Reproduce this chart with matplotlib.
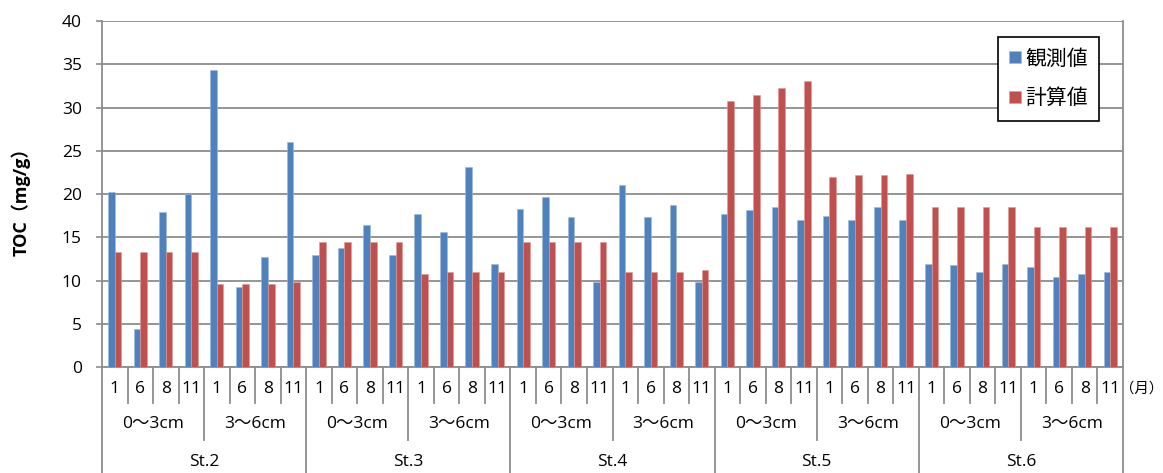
import matplotlib
matplotlib.use("Agg")
import matplotlib.pyplot as plt
import numpy as np

# Sampling stations, depth layers and sampling months (category axis levels)
stations = ["St.2", "St.3", "St.4", "St.5", "St.6"]
depths = ["0〜3cm", "3〜6cm"]
months = ["1", "6", "8", "11"]

# TOC (mg/g), ordered station -> depth -> month
observed = [
    20.2, 4.4, 17.9, 20.0,   34.3, 9.3, 12.7, 26.0,     # St.2
    12.9, 13.7, 16.4, 12.9,  17.7, 15.6, 23.1, 11.95,   # St.3
    18.3, 19.7, 17.3, 9.8,   21.0, 17.3, 18.7, 9.8,     # St.4
    17.7, 18.1, 18.5, 17.0,  17.5, 17.0, 18.5, 17.0,    # St.5
    11.95, 11.75, 11.0, 11.95, 11.55, 10.4, 10.8, 11.0, # St.6
]
calculated = [
    13.3, 13.3, 13.3, 13.3,  9.6, 9.6, 9.6, 9.8,
    14.45, 14.45, 14.45, 14.45, 10.8, 11.0, 11.0, 11.0,
    14.45, 14.45, 14.45, 14.45, 11.0, 11.0, 11.0, 11.2,
    30.8, 31.4, 32.2, 33.1,  22.0, 22.2, 22.2, 22.35,
    18.5, 18.5, 18.5, 18.5,  16.2, 16.2, 16.2, 16.2,
]

BLUE = "#4F81BD"
RED = "#C0504D"
GRID = "#8C8C8C"
FONT = ["Open Sans", "Noto Sans CJK JP", "DejaVu Sans"]
plt.rcParams["font.family"] = FONT

W, H = 1163, 473
fig = plt.figure(figsize=(W / 100, H / 100), dpi=100)

# plot area in pixel terms
left_px, right_px, top_px, base_px = 102, 1123, 21, 367
ax = fig.add_axes([left_px / W, (H - base_px) / H,
                   (right_px - left_px) / W, (base_px - top_px) / H])

n = len(observed)
x = np.arange(n)
bw = 0.26
ax.bar(x - bw / 2, observed, bw, color=BLUE, edgecolor="#9DB8DC", linewidth=0.4,
       label="観測値", zorder=3)
ax.bar(x + bw / 2, calculated, bw, color=RED, edgecolor="#DE9C9A", linewidth=0.4,
       label="計算値", zorder=3)

ax.set_xlim(-0.5, n - 0.5)
ax.set_ylim(0, 40)
ax.set_yticks(np.arange(0, 41, 5))
ax.yaxis.grid(True, color=GRID, linewidth=1.3, zorder=0)
ax.set_axisbelow(True)
ax.set_xticks([])
ax.tick_params(axis="y", length=4.5, width=1.2, color=GRID, pad=10, labelsize=12.5)

for s in ("top", "right"):
    ax.spines[s].set_visible(False)
for s in ("left", "bottom"):
    ax.spines[s].set_color(GRID)
    ax.spines[s].set_linewidth(1.3)

ph = base_px - top_px


def yfrac(ypix):
    return (base_px - ypix) / ph


def xdata(xpix):
    return -0.5 + (xpix - left_px) / (right_px - left_px) * n


xt = ax.get_xaxis_transform()
line_kw = dict(color=GRID, linewidth=1.3, transform=xt, clip_on=False)

# category separators: months, depth groups, stations
for b in np.arange(n + 1) - 0.5:
    k = int(b + 0.5)
    if k % 8 == 0:
        y_end = yfrac(H + 2)
    elif k % 4 == 0:
        y_end = yfrac(440)
    else:
        y_end = yfrac(403)
    y_start = 1.0 if k == n else 0.0
    ax.plot([b, b], [y_start, y_end], **line_kw)

# level 1: months
for i in range(n):
    ax.text(i, yfrac(389), months[i % 4], transform=xt, ha="center", va="center",
            fontsize=12.5)
ax.text(xdata(1119.5), yfrac(389), "（月）", transform=xt, ha="left", va="center",
        fontsize=10.4)

# level 2: depth layers
for g in range(n // 4):
    ax.text(g * 4 + 1.5, yfrac(424), depths[g % 2], transform=xt, ha="center",
            va="center", fontsize=12.5)

# level 3: stations
for s, name in enumerate(stations):
    ax.text(s * 8 + 3.5, yfrac(462), name, transform=xt, ha="center", va="center",
            fontsize=12.5)

fig.text(21 / W, (H - 197) / H, "TOC（mg/g）", rotation=90, ha="center",
         va="center", fontsize=13, fontweight="bold")

leg = ax.legend(loc="upper left",
                bbox_to_anchor=((998 - left_px) / (right_px - left_px), yfrac(37)),
                borderaxespad=0, fontsize=15, frameon=True, fancybox=False,
                edgecolor="black", handlelength=0.55, handleheight=0.55,
                handletextpad=0.2, labelspacing=0.9, borderpad=0.55)
leg.get_frame().set_linewidth(1.2)
leg.get_frame().set_alpha(1)

fig.savefig("out.png", dpi=100)
